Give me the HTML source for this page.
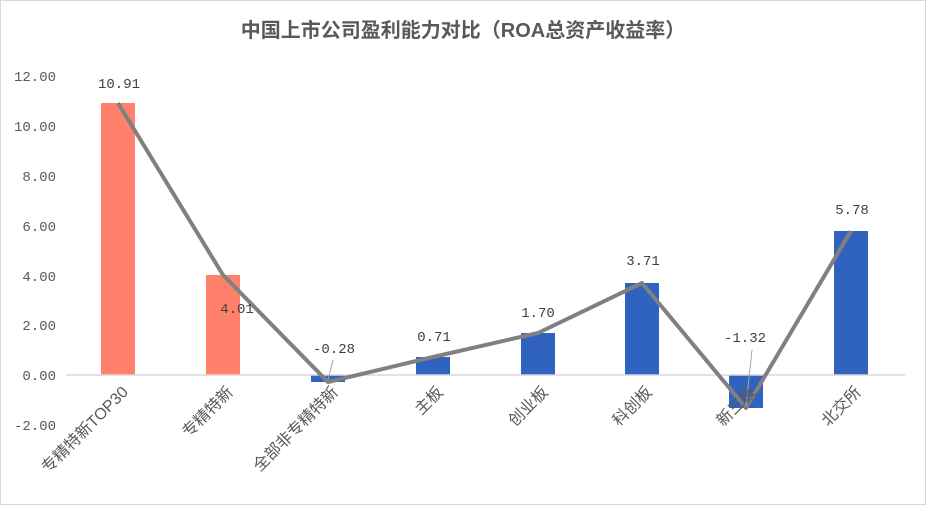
<!DOCTYPE html>
<html><head><meta charset="utf-8"><style>
html,body{margin:0;padding:0;background:#fff}
svg{display:block}
text{font-family:"Liberation Sans","Noto Sans CJK SC",sans-serif}
.m text{font-family:"Liberation Mono",monospace}
</style></head><body>
<svg width="926" height="505" viewBox="0 0 926 505">
<rect x="0.5" y="0.5" width="925" height="504" fill="#fff" stroke="#d9d9d9"/>
<text x="463" y="37" text-anchor="middle" font-size="20" font-weight="bold" fill="#595959">中国上市公司盈利能力对比（ROA总资产收益率）</text>
<g class="m" font-size="14" fill="#595959" text-anchor="end">
<text x="56" y="81">12.00</text>
<text x="56" y="131">10.00</text>
<text x="56" y="181">8.00</text>
<text x="56" y="231">6.00</text>
<text x="56" y="281">4.00</text>
<text x="56" y="330">2.00</text>
<text x="56" y="380">0.00</text>
<text x="56" y="430">-2.00</text>
</g>
<g>
<rect x="101" y="103" width="34" height="272" fill="#ff806b"/>
<rect x="206" y="275" width="34" height="100" fill="#ff806b"/>
<rect x="311" y="375" width="34" height="7" fill="#2f63bf"/>
<rect x="416" y="357" width="34" height="18" fill="#2f63bf"/>
<rect x="521" y="333" width="34" height="42" fill="#2f63bf"/>
<rect x="625" y="283" width="34" height="92" fill="#2f63bf"/>
<rect x="729" y="375" width="34" height="33" fill="#2f63bf"/>
<rect x="834" y="231" width="34" height="144" fill="#2f63bf"/>
</g>
<line x1="66" y1="375" x2="905" y2="375" stroke="#d9d9d9" stroke-width="1.5"/>
<polyline points="118,103 223,275 328,382 433,357 538,333 642,283 746,408 851,231" fill="none" stroke="#808080" stroke-width="4" stroke-linejoin="round"/>
<line x1="746" y1="406" x2="752" y2="350" stroke="#a6a6a6" stroke-width="1"/>
<line x1="328" y1="380" x2="333" y2="360" stroke="#a6a6a6" stroke-width="1"/>
<g class="m" font-size="14" fill="#404040" text-anchor="middle">
<text x="119" y="88">10.91</text>
<text x="237" y="313">4.01</text>
<text x="334" y="353">-0.28</text>
<text x="434" y="341">0.71</text>
<text x="538" y="317">1.70</text>
<text x="643" y="265">3.71</text>
<text x="745" y="342">-1.32</text>
<text x="852" y="214">5.78</text>
</g>
<g font-size="16" fill="#595959" text-anchor="end">
<text transform="translate(129,393) rotate(-45)">专精特新TOP30</text>
<text transform="translate(234,393) rotate(-45)">专精特新</text>
<text transform="translate(339,393) rotate(-45)">全部非专精特新</text>
<text transform="translate(444,393) rotate(-45)">主板</text>
<text transform="translate(549,393) rotate(-45)">创业板</text>
<text transform="translate(653,393) rotate(-45)">科创板</text>
<text transform="translate(757,393) rotate(-45)">新三板</text>
<text transform="translate(862,393) rotate(-45)">北交所</text>
</g>
</svg>
</body></html>
